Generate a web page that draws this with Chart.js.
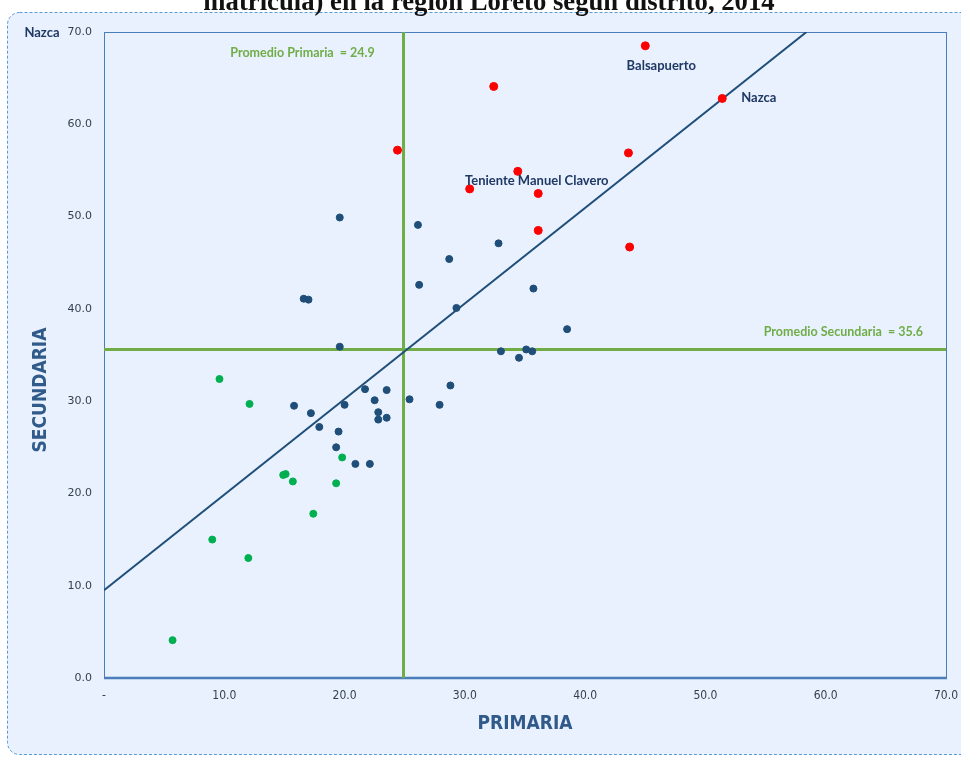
<!DOCTYPE html>
<html>
<head>
<meta charset="utf-8">
<script src="https://cdn.jsdelivr.net/npm/chart.js@4.4.1/dist/chart.umd.min.js"></script>
<style>
    html, body { margin: 0; padding: 0; background: #ffffff; overflow: hidden; }
    #wrap { position: relative; width: 961px; height: 758px; }
    #chartTitle {
        position: absolute; left: 0; width: 978px; top: -12px;
        font-family: "Liberation Serif", "DejaVu Serif", serif;
        font-weight: bold; font-size: 26.7px; line-height: 26px;
        text-align: center; color: #111111; white-space: nowrap;
    }
    canvas { position: absolute; left: 0; top: 0; }
</style>
</head>
<body>
<div id="wrap">
    <canvas id="scatterChart" width="961" height="758"></canvas>
    <div id="chartTitle">matrícula) en la región Loreto según distrito, 2014</div>
</div>

<script>

// ======================================================
// Data
// ======================================================

// Districts above both averages (red)
const redX = [24.4, 32.4, 45.0, 51.4, 34.4, 30.4, 36.1, 36.1, 43.6, 43.7];
const redY = [57.2, 64.1, 68.5, 62.8, 54.9, 53.0, 52.5, 48.5, 56.9, 46.7];

// Intermediate districts (dark blue)
const blueX = [19.6, 26.1, 32.8, 28.7, 26.2, 35.7, 16.6, 17.0, 29.3, 38.5,
               19.6, 33.0, 35.1, 35.6, 34.5, 23.5, 25.4, 28.8, 27.9, 23.5,
               22.8, 22.8, 15.8, 17.2, 17.9, 20.0, 21.7, 22.5, 19.5, 19.3,
               20.9, 22.1];
const blueY = [49.9, 49.1, 47.1, 45.4, 42.6, 42.2, 41.1, 41.0, 40.1, 37.8,
               35.9, 35.4, 35.6, 35.4, 34.7, 31.2, 30.2, 31.7, 29.6, 28.2,
               28.8, 28.0, 29.5, 28.7, 27.2, 29.6, 31.3, 30.1, 26.7, 25.0,
               23.2, 23.2];

// Districts below both averages (green)
const greenX = [9.6, 12.1, 19.8, 14.9, 15.1, 15.7, 19.3, 17.4, 9.0, 12.0, 5.7];
const greenY = [32.4, 29.7, 23.9, 22.0, 22.1, 21.3, 21.1, 17.8, 15.0, 13.0, 4.1];

// Trend line end points
const trendX = [0, 58.4];
const trendY = [9.5, 70];

// Averages
const avgPrimaria = 24.9;
const avgSecundaria = 35.6;

// Axis range
const axisMin = 0;
const axisMax = 70;
const axisStep = 10;

// Named districts
const pointLabels = [
    { name: "Balsapuerto", x: 45.0, y: 68.5, dx: 16, dy: 20, align: "center" },
    { name: "Nazca", x: 51.4, y: 62.8, dx: 19, dy: -1, align: "left" },
    { name: "Teniente Manuel Clavero", x: 34.4, y: 54.9, dx: 19, dy: 9, align: "center" }
];


// ======================================================
// Helpers
// ======================================================

function toPoints(xs, ys) {

    return xs.map((x, i) => ({ x: x, y: ys[i] }));

}

const navy = "#1F4E79";
const labelNavy = "#1F3864";
const green = "#70AD47";
const pale = "#E8F1FD";
const frameBlue = "#4A7EBB";
const titleBlue = "#2F5A8A";
const axisFont = "'Liberation Sans Narrow', 'DejaVu Sans Condensed', sans-serif";


// ======================================================
// Plugin: background, frame and text annotations
// ======================================================

const decorPlugin = {

    id: "decor",

    beforeDraw(chart) {

        const ctx = chart.ctx;

        ctx.save();

        ctx.fillStyle = "#ffffff";
        ctx.fillRect(0, 0, chart.width, chart.height);

        // Outer rounded, dashed chart box
        ctx.beginPath();
        ctx.roundRect(7.5, 12.5, 990, 742, 12);
        ctx.fillStyle = pale;
        ctx.fill();
        ctx.setLineDash([3, 2]);
        ctx.strokeStyle = "#5B9BD5";
        ctx.lineWidth = 1;
        ctx.stroke();

        ctx.restore();

    },

    beforeDatasetsDraw(chart) {

        const ctx = chart.ctx;
        const a = chart.chartArea;

        ctx.save();

        ctx.strokeStyle = frameBlue;
        ctx.lineWidth = 1;
        ctx.strokeRect(a.left + 0.5, a.top + 0.5, a.right - a.left, a.bottom - a.top);

        ctx.lineWidth = 2.5;
        ctx.beginPath();
        ctx.moveTo(a.left, a.bottom);
        ctx.lineTo(a.right + 1, a.bottom);
        ctx.stroke();

        ctx.restore();

    },

    afterDraw(chart) {

        const ctx = chart.ctx;
        const a = chart.chartArea;
        const xs = chart.scales.x;
        const ys = chart.scales.y;

        ctx.save();

        // Average labels
        ctx.font = "bold 12.5px Lato, 'Open Sans', sans-serif";
        ctx.fillStyle = green;
        ctx.textBaseline = "middle";

        ctx.textAlign = "center";
        ctx.fillText("Promedio Primaria  = " + avgPrimaria.toFixed(1),
            xs.getPixelForValue(avgPrimaria) - 101, a.top + 21);

        ctx.textAlign = "right";
        ctx.fillText("Promedio Secundaria  = " + avgSecundaria.toFixed(1),
            a.right - 23, ys.getPixelForValue(avgSecundaria) - 17);

        // District labels
        ctx.font = "bold 13px Lato, 'Open Sans', sans-serif";
        ctx.fillStyle = labelNavy;

        pointLabels.forEach(p => {

            ctx.textAlign = p.align;
            ctx.fillText(p.name,
                xs.getPixelForValue(p.x) + p.dx,
                ys.getPixelForValue(p.y) + p.dy);

        });

        // Stray label at top left
        ctx.font = "bold 13px Lato, 'Open Sans', sans-serif";
        ctx.textAlign = "center";
        ctx.fillText("Nazca", 42, 33);

        // Y axis title
        ctx.translate(41, 390);
        ctx.rotate(-Math.PI / 2);
        ctx.font = "bold 19px " + axisFont;
        ctx.fillStyle = titleBlue;
        ctx.textAlign = "center";
        ctx.fillText("SECUNDARIA", 0, 0);

        ctx.restore();

    }

};


// ======================================================
// Create Chart
// ======================================================

const ctx = document
    .getElementById("scatterChart")
    .getContext("2d");

const scatterChart = new Chart(ctx, {

    type: "scatter",

    data: {

        datasets: [

            {
                label: "Alto",
                data: toPoints(redX, redY),
                backgroundColor: "#FF0000",
                borderColor: "#FF0000",
                pointRadius: 4,
                order: 1
            },

            {
                label: "Medio",
                data: toPoints(blueX, blueY),
                backgroundColor: navy,
                borderColor: navy,
                pointRadius: 3.5,
                order: 1
            },

            {
                label: "Bajo",
                data: toPoints(greenX, greenY),
                backgroundColor: "#00B050",
                borderColor: "#00B050",
                pointRadius: 3.5,
                order: 1
            },

            {
                label: "Tendencia",
                type: "line",
                data: toPoints(trendX, trendY),
                borderColor: navy,
                borderWidth: 2,
                pointRadius: 0,
                fill: false,
                order: 2
            },

            {
                label: "Promedio Primaria",
                type: "line",
                data: toPoints([avgPrimaria, avgPrimaria], [axisMin, axisMax]),
                borderColor: green,
                borderWidth: 3,
                pointRadius: 0,
                fill: false,
                order: 3
            },

            {
                label: "Promedio Secundaria",
                type: "line",
                data: toPoints([axisMin, axisMax], [avgSecundaria, avgSecundaria]),
                borderColor: green,
                borderWidth: 3,
                pointRadius: 0,
                fill: false,
                order: 3
            }

        ]

    },

    options: {

        responsive: false,

        animation: false,

        layout: {

            padding: { left: 0, right: 15, top: 32, bottom: 0 }

        },

        plugins: {

            legend: { display: false },

            tooltip: { enabled: false }

        },

        scales: {

            x: {

                type: "linear",

                min: axisMin,

                max: axisMax,

                afterFit(scale) {

                    scale.height = 80;
                    scale.paddingLeft = 0;
                    scale.paddingRight = 0;

                },

                grid: { display: false, drawTicks: false },

                border: { display: false },

                ticks: {

                    stepSize: axisStep,

                    padding: 11,

                    color: "#333F50",

                    font: { family: "'DejaVu Sans Condensed', 'Liberation Sans Narrow', sans-serif", size: 12 },

                    callback: (v) => v === 0 ? "-" : v.toFixed(1)

                },

                title: {

                    display: true,

                    text: "PRIMARIA",

                    color: titleBlue,

                    padding: { top: 0, bottom: 23 },

                    font: { family: axisFont, size: 19, weight: "bold" }

                }

            },

            y: {

                type: "linear",

                min: axisMin,

                max: axisMax,

                afterFit(scale) {

                    scale.width = 104;
                    scale.paddingTop = 0;
                    scale.paddingBottom = 0;

                },

                grid: { display: false, drawTicks: false },

                border: { display: false },

                ticks: {

                    stepSize: axisStep,

                    padding: 12,

                    color: "#333F50",

                    font: { family: "'DejaVu Sans', sans-serif", size: 11 },

                    callback: (v) => v.toFixed(1)

                }

            }

        }

    },

    plugins: [decorPlugin]

});

</script>
</body>
</html>
